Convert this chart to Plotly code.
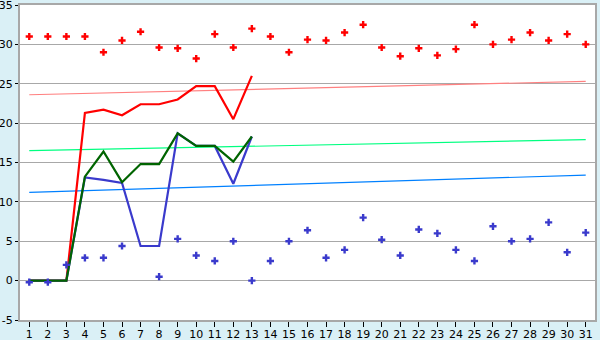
import plotly.graph_objects as go

days = list(range(1, 32))
red_pts = [31.0, 31.0, 31.0, 31.0, 29.0, 30.5, 31.6, 29.6, 29.5, 28.2,
           31.3, 29.6, 32.0, 31.0, 29.0, 30.6, 30.5, 31.5, 32.5, 29.6,
           28.5, 29.5, 28.6, 29.4, 32.5, 30.0, 30.6, 31.5, 30.5, 31.3, 30.0]
blue_pts = [-0.2, -0.2, 2.0, 2.9, 2.9, 4.4, None, 0.5, 5.3, 3.2,
            2.5, 5.0, 0.0, 2.5, 5.0, 6.4, 2.9, 3.9, 8.0, 5.2,
            3.2, 6.5, 6.0, 3.9, 2.5, 6.9, 5.0, 5.3, 7.4, 3.6, 6.1]
line_days = list(range(1, 14))
red_line = [0, 0, 0, 21.3, 21.7, 21.0, 22.4, 22.4, 23.0, 24.7, 24.7, 20.5, 26.0]
green_line = [0, 0, 0, 13.2, 16.4, 12.5, 14.8, 14.8, 18.7, 17.1, 17.1, 15.1, 18.3]
blue_line = [0, 0, 0, 13.1, 12.8, 12.4, 4.4, 4.4, 18.7, 17.1, 17.1, 12.3, 18.3]
trend_days = [1, 31]
red_trend = [23.6, 25.3]
green_trend = [16.5, 17.9]
blue_trend = [11.2, 13.4]
y_ticks = [-5, 0, 5, 10, 15, 20, 25, 30, 35]
y_labels = ["-5", "0", "5", "10", "15", "20", "25", "30", "35"]

fig = go.Figure()
fig.add_trace(go.Scatter(x=trend_days, y=red_trend, mode="lines",
                         line=dict(color="#ff8080", width=1.2), hoverinfo="skip"))
fig.add_trace(go.Scatter(x=trend_days, y=green_trend, mode="lines",
                         line=dict(color="#00ff80", width=1.2), hoverinfo="skip"))
fig.add_trace(go.Scatter(x=trend_days, y=blue_trend, mode="lines",
                         line=dict(color="#0080ff", width=1.2), hoverinfo="skip"))
fig.add_trace(go.Scatter(x=line_days, y=red_line, mode="lines",
                         line=dict(color="#ff0000", width=2.2)))
fig.add_trace(go.Scatter(x=line_days, y=blue_line, mode="lines",
                         line=dict(color="#3a3acc", width=2.2)))
fig.add_trace(go.Scatter(x=line_days, y=green_line, mode="lines",
                         line=dict(color="#006400", width=2.2)))
fig.add_trace(go.Scatter(x=days, y=red_pts, mode="markers",
                         marker=dict(symbol="cross", size=6, color="#ff0000")))
fig.add_trace(go.Scatter(x=days, y=blue_pts, mode="markers",
                         marker=dict(symbol="cross", size=6, color="#3a3acc")))

axis_col = "#a8a8a8"
fig.update_layout(
    width=600, height=340,
    margin=dict(l=20, r=5, t=5, b=20),
    paper_bgcolor="#daf0f6",
    plot_bgcolor="#ffffff",
    showlegend=False,
    font=dict(family="DejaVu Sans", size=11, color="#000000"),
    xaxis=dict(range=[0.5, 31.5], tickvals=days, ticktext=[str(d) for d in days],
               showgrid=False, zeroline=False, showline=True, linecolor=axis_col,
               linewidth=2, mirror=True, ticks="outside", ticklen=5, tickcolor="#000000",
               tickwidth=1, automargin=False, ticklabelstandoff=-2,
               ticklabeloverflow="allow"),
    yaxis=dict(range=[-5, 35], tickvals=y_ticks, ticktext=y_labels, showgrid=True,
               gridcolor=axis_col, gridwidth=1, zeroline=False, showline=True,
               linecolor=axis_col, linewidth=2, mirror=True, ticks="outside", ticklen=3,
               tickcolor="#000000", ticklabelstandoff=0, automargin=False,
               ticklabeloverflow="allow"),
)
fig.write_html("out.html")
